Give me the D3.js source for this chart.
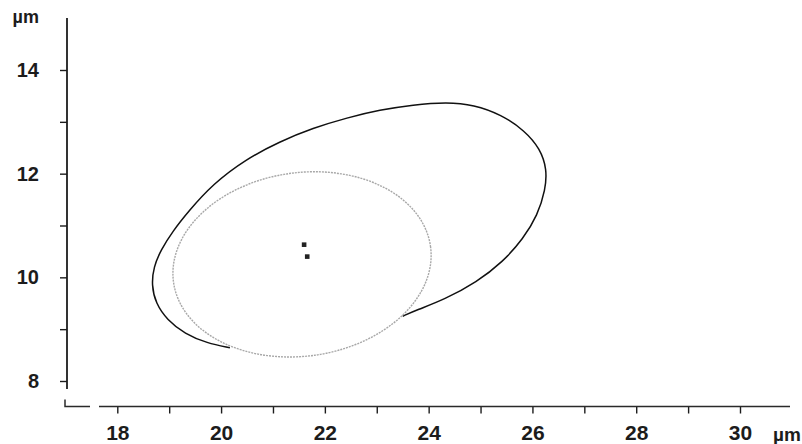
<!DOCTYPE html>
<html>
<head>
<meta charset="utf-8">
<script src="https://cdn.jsdelivr.net/npm/d3@7"></script>
<style>
body { margin: 0; background: #fff; }
svg text { font-family: "Liberation Sans", Arial, sans-serif; font-weight: bold; fill: #1c1c1c; }
</style>
</head>
<body>
<div id="chart"></div>
<script>
// axis ticks, µm
var xTicks = [18, 19, 20, 21, 22, 23, 24, 25, 26, 27, 28, 29, 30];
var xLabels = [18, 20, 22, 24, 26, 28, 30];
var yTicks = [8, 9, 10, 11, 12, 13, 14];
var yLabels = [8, 10, 12, 14];

// outer contour: from the lower-left join with the grey
// ellipse, round the left end and over the top, down to the lower-right join
var outerX = [20.17, 19.73, 19.30, 18.96, 18.74, 18.66, 18.70, 18.84, 19.07, 19.36,
    19.84, 20.48, 21.13, 21.77, 22.43, 23.06, 23.70, 24.35, 24.87, 25.40,
    25.85, 26.15, 26.28, 26.25, 26.10, 25.82, 25.43, 24.93, 24.30, 23.77,
    23.50];
var outerY = [8.64, 8.73, 8.91, 9.18, 9.50, 9.85, 10.20, 10.53, 10.89, 11.26,
    11.80, 12.28, 12.62, 12.88, 13.08, 13.23, 13.33, 13.38, 13.33, 13.14,
    12.83, 12.48, 12.08, 11.69, 11.20, 10.74, 10.30, 9.91, 9.57, 9.37,
    9.25];

// inner (grey) ellipse: centre, semi-axes, tilt in degrees
var innerCentre = [21.56, 10.25];
var innerRadii = [2.50, 1.77];
var innerTilt = 8;

// the two small centre marks
var markX = [21.60, 21.66];
var markY = [10.63, 10.40];

var width = 802, height = 444;

var svg = d3.select('#chart').append('svg')
    .attr('width', width)
    .attr('height', height);

var x = d3.scaleLinear().domain([18, 30]).range([117.3, 740]);
var y = d3.scaleLinear().domain([8, 14]).range([381, 70]);

function label(list) {
    return function(d) {
        return list.indexOf(d) >= 0 ? d : '';
    };
}

// y axis
var yAxis = svg.append('g')
    .attr('transform', 'translate(67,0)')
    .call(d3.axisLeft(y).tickValues(yTicks).tickSize(7).tickPadding(21)
          .tickFormat(label(yLabels)));
yAxis.select('.domain').remove();
yAxis.append('line')
    .attr('y1', 18).attr('y2', 389)
    .attr('stroke', '#1c1c1c').attr('stroke-width', 1.8);
yAxis.selectAll('.tick line').attr('stroke', '#1c1c1c').attr('stroke-width', 1.4);
yAxis.selectAll('.tick text')
    .attr('fill', null)
    .style('font-size', '20px');

// x axis
var xAxis = svg.append('g')
    .attr('transform', 'translate(0,406.5)')
    .call(d3.axisBottom(x).tickValues(xTicks).tickSize(7).tickPadding(12)
          .tickFormat(label(xLabels)));
xAxis.select('.domain').remove();
xAxis.append('line')
    .attr('x1', 99).attr('x2', 790)
    .attr('stroke', '#2a2a2a').attr('stroke-width', 1.5);
xAxis.append('path')
    .attr('d', 'M65,-7V0H90')
    .attr('fill', 'none')
    .attr('stroke', '#2a2a2a').attr('stroke-width', 1.5);
xAxis.selectAll('.tick line').attr('stroke', '#1c1c1c').attr('stroke-width', 1.4);
xAxis.selectAll('.tick text')
    .attr('fill', null)
    .style('font-size', '21px');

// unit labels
svg.append('text')
    .attr('x', 39).attr('y', 23)
    .attr('text-anchor', 'end')
    .style('font-size', '18px')
    .text('µm');
svg.append('text')
    .attr('x', 787).attr('y', 441)
    .attr('text-anchor', 'middle')
    .style('font-size', '19px')
    .text('µm');

// outer contour (b-spline through the read points smooths the reading noise)
var outer = outerX.map(function(v, i) { return [v, outerY[i]]; });
var line = d3.line()
    .x(function(d) { return x(d[0]); })
    .y(function(d) { return y(d[1]); })
    .curve(d3.curveBasis);
svg.append('path')
    .attr('d', line(outer))
    .attr('fill', 'none')
    .attr('stroke', '#111')
    .attr('stroke-width', 1.5);

// inner ellipse
var cx = x(innerCentre[0]), cy = y(innerCentre[1]);
svg.append('ellipse')
    .attr('cx', cx).attr('cy', cy)
    .attr('rx', x(innerCentre[0] + innerRadii[0]) - cx)
    .attr('ry', cy - y(innerCentre[1] + innerRadii[1]))
    .attr('transform', 'rotate(' + (-innerTilt) + ',' + cx + ',' + cy + ')')
    .attr('fill', 'none')
    .attr('stroke', '#a8a8a8')
    .attr('stroke-width', 1.4)
    .attr('stroke-dasharray', '2,1');

// centre marks
svg.selectAll('.mark')
    .data(markX)
    .enter().append('rect')
    .attr('class', 'mark')
    .attr('x', function(d) { return x(d) - 2.3; })
    .attr('y', function(d, i) { return y(markY[i]) - 2.3; })
    .attr('width', 4.6).attr('height', 4.6)
    .attr('fill', '#222');
</script>
</body>
</html>
